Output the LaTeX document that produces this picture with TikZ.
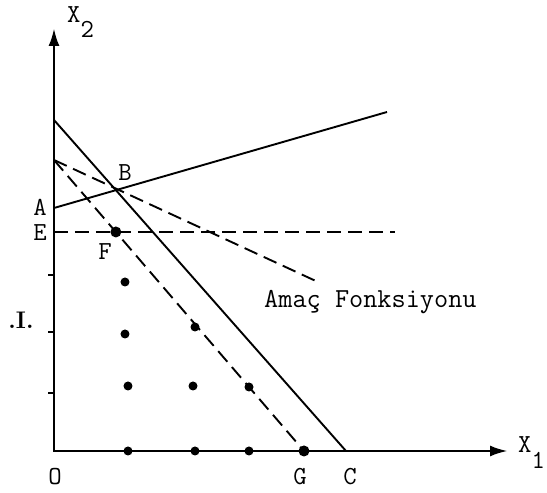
\documentclass[tikz,border=0pt]{standalone}
\usepackage{fontspec}
\usetikzlibrary{arrows.meta,positioning}

\begin{document}
\begin{tikzpicture}[
  x=1pt, y=1pt,
  axis/.style={line width=2.8pt, line join=miter, {Latex[length=18pt,width=11pt]}-{Latex[length=18pt,width=11pt]}},
  tick/.style={line width=2pt},
  bound/.style={line width=1.9pt},
  level/.style={line width=1.9pt, dash pattern=on 14pt off 7pt},
  pt/.style={circle, fill=black, inner sep=0pt, minimum size=9pt},
  lbl/.style={font=\ttfamily\fontsize{26}{30}\selectfont, inner sep=0pt}
]
  \useasboundingbox (-54,-42) rectangle (493,451);

  % axes
  \coordinate (O) at (0,0);
  \coordinate (ytop) at (0,423);
  \coordinate (xend) at (454,0);
  \draw[axis] (ytop) -- (O) -- (xend);
  \foreach \t in {58,119,176}
    \draw[tick] (0,\t) -- ++(-6,0);

  % constraints
  \coordinate (P) at (0,331);
  \coordinate (C) at (292,0);
  \coordinate (A) at (0,243);
  \coordinate (Aend) at (333,339);
  \coordinate (D) at (0,291);
  \coordinate (Dend) at (264,169);
  \coordinate (G) at (250,0);
  \coordinate (E) at (0,219);
  \coordinate (Eend) at (341,219);
  \coordinate (B) at (intersection of P--C and A--Aend);
  \coordinate (F) at (intersection of E--Eend and D--G);

  \draw[bound] (P) -- (C);
  \draw[bound] (A) -- (Aend);
  \draw[level] (D) -- (Dend);
  \draw[level] (D) -- (G);
  \draw[level] (E) -- (Eend);

  % integer points
  \foreach \p/\q in {71/169, 71/117, 74/65, 74/0, 141/124, 139/65, 141/0, 195/64, 195/0}
    \node[pt] (dot-\p-\q) at (\p,\q) {};
  \node[pt, minimum size=11pt] (Gdot) at (G) {};
  \node[pt, minimum size=11pt] (Fdot) at (F) {};

  % labels
  \node[lbl, anchor=base west] (lblX2) at (13,428) {X\raisebox{-15pt}{2}};
  \node[lbl, anchor=base west] (lblX1) at (464,-2) {X\raisebox{-16pt}{1}};
  \node[lbl] (lblO) at (1,-26) {O};
  \node[lbl] (lblG) at (246,-26) {G};
  \node[lbl] (lblC) at (296,-26) {C};
  \node[lbl] (lblA) at (-14,244) {A};
  \node[lbl] (lblE) at (-14,218) {E};
  \node[lbl] (lblB) at (71,278) {B};
  \node[lbl] (lblF) at (51,199) {F};
  \node[lbl, font=\ttfamily\fontsize{27.5}{30}\selectfont, anchor=base west] (lblObj) at (210,143) {Amaç Fonksiyonu};
  \node[font=\bfseries\fontsize{24}{26}\selectfont, inner sep=0pt] (lblJ) at (-33,131) {.I.};
\end{tikzpicture}
\end{document}
